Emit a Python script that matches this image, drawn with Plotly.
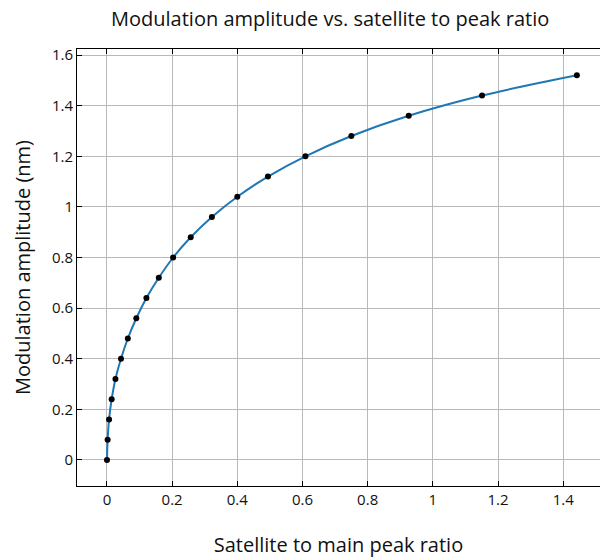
import plotly.graph_objects as go

ratio = [0.0, 0.002, 0.0064, 0.0144, 0.026, 0.043, 0.064, 0.090, 0.121, 0.159,
         0.203, 0.257, 0.322, 0.400, 0.494, 0.609, 0.750, 0.926, 1.151, 1.442]
amplitude = [0.0, 0.08, 0.16, 0.24, 0.32, 0.40, 0.48, 0.56, 0.64, 0.72,
             0.80, 0.88, 0.96, 1.04, 1.12, 1.20, 1.28, 1.36, 1.44, 1.52]

x_ticks = [0, 0.2, 0.4, 0.6, 0.8, 1, 1.2, 1.4]
x_tick_labels = ["0", "0.2", "0.4", "0.6", "0.8", "1", "1.2", "1.4"]
y_ticks = [0, 0.2, 0.4, 0.6, 0.8, 1, 1.2, 1.4, 1.6]
y_tick_labels = ["0", "0.2", "0.4", "0.6", "0.8", "1", "1.2", "1.4", "1.6"]

fig = go.Figure()
fig.add_trace(go.Scatter(x=ratio, y=amplitude, mode="lines",
                         line=dict(color="#1f77b4", width=2, shape="spline"),
                         showlegend=False, hoverinfo="skip"))
fig.add_trace(go.Scatter(x=ratio, y=amplitude, mode="markers",
                         marker=dict(color="black", size=6),
                         showlegend=False))

axis_common = dict(
    showline=True, linecolor="black", linewidth=1,
    ticks="inside", ticklen=5, tickcolor="black", tickwidth=1,
    showgrid=True, gridcolor="#b9b9b9", gridwidth=1,
    zeroline=False,
    tickfont=dict(family="Open Sans", size=15, color="#111"),
)

fig.update_layout(
    width=600, height=558,
    margin=dict(l=77, r=0, t=49, b=72),
    paper_bgcolor="white", plot_bgcolor="white",
    font=dict(family="Open Sans", color="#111"),
    title=dict(text="Modulation amplitude vs. satellite to peak ratio",
               xref="paper", x=0.484, xanchor="center",
               y=0.966, yanchor="middle",
               font=dict(size=20)),
    xaxis=dict(range=[-0.092, 1.513], tickvals=x_ticks, ticktext=x_tick_labels,
               mirror="ticks",
               title=dict(text="Satellite to main peak ratio", font=dict(size=20),
                          standoff=33),
               **axis_common),
    yaxis=dict(range=[-0.103, 1.624], tickvals=y_ticks, ticktext=y_tick_labels,
               title=dict(text="Modulation amplitude (nm)", font=dict(size=20),
                          standoff=15),
               **axis_common),
)

fig.write_html("out.html")
